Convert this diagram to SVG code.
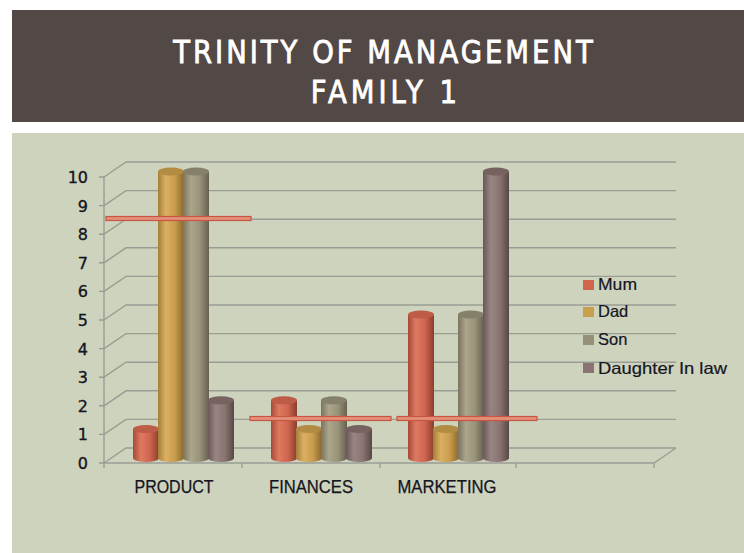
<svg xmlns="http://www.w3.org/2000/svg" width="744" height="553" viewBox="0 0 744 553">
<style>
.grid{stroke:#9a9d94;stroke-width:1.4;fill:none}
.ylab{font-family:"DejaVu Sans",sans-serif;font-size:16px;fill:#15151f;stroke:#15151f;stroke-width:0.35;text-anchor:end}
.cat{font-family:"Liberation Sans",Arial,sans-serif;font-size:18px;fill:#15151f;stroke:#15151f;stroke-width:0.25;text-anchor:middle}
.leg{font-family:"Liberation Sans",Arial,sans-serif;font-size:16.5px;fill:#15151f;stroke:#15151f;stroke-width:0.2}
.title{font-family:"DejaVu Sans",sans-serif;font-size:32px;fill:#ffffff;stroke:#ffffff;stroke-width:0.9;text-anchor:middle}
.ref{fill:#e38f7b;stroke:#c9573f;stroke-width:1.2}
</style>
<defs>
<linearGradient id="gMum" x1="0" x2="1" y1="0" y2="0">
<stop offset="0" stop-color="#a54a38"/><stop offset="0.3" stop-color="#de7a60"/><stop offset="0.65" stop-color="#cf6550"/><stop offset="1" stop-color="#8a3e2e"/>
</linearGradient>
<linearGradient id="gDad" x1="0" x2="1" y1="0" y2="0">
<stop offset="0" stop-color="#a67e38"/><stop offset="0.3" stop-color="#dbb063"/><stop offset="0.65" stop-color="#c99c4c"/><stop offset="1" stop-color="#8a672e"/>
</linearGradient>
<linearGradient id="gSon" x1="0" x2="1" y1="0" y2="0">
<stop offset="0" stop-color="#7a7460"/><stop offset="0.3" stop-color="#aba58b"/><stop offset="0.65" stop-color="#99937a"/><stop offset="1" stop-color="#666150"/>
</linearGradient>
<linearGradient id="gDil" x1="0" x2="1" y1="0" y2="0">
<stop offset="0" stop-color="#6a5856"/><stop offset="0.3" stop-color="#988583"/><stop offset="0.65" stop-color="#8a7471"/><stop offset="1" stop-color="#584746"/>
</linearGradient>
</defs>

<rect x="0" y="0" width="744" height="553" fill="#ffffff"/>
<g id="header">
<rect x="12" y="10" width="732" height="112" fill="#524846"/>
<g transform="translate(383 0) scale(0.86 1)">
<text class="title" x="0" y="63" textLength="488" lengthAdjust="spacing">TRINITY OF MANAGEMENT</text>
<text class="title" x="1" y="103" textLength="170" lengthAdjust="spacing">FAMILY 1</text>
</g>
</g>
<rect id="panel" x="12" y="133" width="732" height="420" fill="#cdd3bc"/>

<g id="axes">
<path class="grid" d="M104 463 L126 448 L676 448 M104 434.4 L126 419.4 L676 419.4 M104 405.8 L126 390.8 L676 390.8 M104 377.2 L126 362.2 L676 362.2 M104 348.6 L126 333.6 L676 333.6 M104 320 L126 305 L676 305 M104 291.4 L126 276.4 L676 276.4 M104 262.8 L126 247.8 L676 247.8 M104 234.2 L126 219.2 L676 219.2 M104 205.6 L126 190.6 L676 190.6 M104 177 L126 162 L676 162"/>
<path class="grid" d="M104 177 L104 463 L654 463 L676 448 M99 463 L104 463 M99 434.4 L104 434.4 M99 405.8 L104 405.8 M99 377.2 L104 377.2 M99 348.6 L104 348.6 M99 320 L104 320 M99 291.4 L104 291.4 M99 262.8 L104 262.8 M99 234.2 L104 234.2 M99 205.6 L104 205.6 M99 177 L104 177 M104 463 L104 468 M242 463 L242 468 M380 463 L380 468 M516 463 L516 468 M654 463 L654 468"/>
<text class="ylab" x="88" y="469">0</text>
<text class="ylab" x="88" y="440.4">1</text>
<text class="ylab" x="88" y="411.8">2</text>
<text class="ylab" x="88" y="383.2">3</text>
<text class="ylab" x="88" y="354.6">4</text>
<text class="ylab" x="88" y="326">5</text>
<text class="ylab" x="88" y="297.4">6</text>
<text class="ylab" x="88" y="268.8">7</text>
<text class="ylab" x="88" y="240.2">8</text>
<text class="ylab" x="88" y="211.6">9</text>
<text class="ylab" x="88" y="183">10</text>
<text class="cat" x="174" y="493" textLength="79" lengthAdjust="spacingAndGlyphs">PRODUCT</text>
<text class="cat" x="311" y="493" textLength="84" lengthAdjust="spacingAndGlyphs">FINANCES</text>
<text class="cat" x="447" y="493" textLength="99" lengthAdjust="spacingAndGlyphs">MARKETING</text>
</g>

<g id="product">
<path fill="url(#gMum)" d="M133 429 L133 458 A13 4 0 0 0 159 458 L159 429 Z"/><ellipse cx="146" cy="429" rx="13" ry="4" fill="#bd5c47"/>
<path fill="url(#gDad)" d="M158 171.5 L158 458 A13 4 0 0 0 184 458 L184 171.5 Z"/><ellipse cx="171" cy="171.5" rx="13" ry="4" fill="#b38c44"/>
<path fill="url(#gSon)" d="M183 171.5 L183 458 A13 4 0 0 0 209 458 L209 171.5 Z"/><ellipse cx="196" cy="171.5" rx="13" ry="4" fill="#85806a"/>
<path fill="url(#gDil)" d="M208 400.3 L208 458 A13 4 0 0 0 234 458 L234 400.3 Z"/><ellipse cx="221" cy="400.3" rx="13" ry="4" fill="#76625f"/>
<rect class="ref" x="106" y="216.5" width="145" height="4"/>
</g>

<g id="finances">
<path fill="url(#gMum)" d="M271 400.3 L271 458 A13 4 0 0 0 297 458 L297 400.3 Z"/><ellipse cx="284" cy="400.3" rx="13" ry="4" fill="#bd5c47"/>
<path fill="url(#gDad)" d="M296 429 L296 458 A13 4 0 0 0 322 458 L322 429 Z"/><ellipse cx="309" cy="429" rx="13" ry="4" fill="#b38c44"/>
<path fill="url(#gSon)" d="M321 400.3 L321 458 A13 4 0 0 0 347 458 L347 400.3 Z"/><ellipse cx="334" cy="400.3" rx="13" ry="4" fill="#85806a"/>
<path fill="url(#gDil)" d="M346 429 L346 458 A13 4 0 0 0 372 458 L372 429 Z"/><ellipse cx="359" cy="429" rx="13" ry="4" fill="#76625f"/>
<rect class="ref" x="250" y="416.5" width="141" height="4"/>
</g>

<g id="marketing">
<path fill="url(#gMum)" d="M408 314.5 L408 458 A13 4 0 0 0 434 458 L434 314.5 Z"/><ellipse cx="421" cy="314.5" rx="13" ry="4" fill="#bd5c47"/>
<path fill="url(#gDad)" d="M433 429 L433 458 A13 4 0 0 0 459 458 L459 429 Z"/><ellipse cx="446" cy="429" rx="13" ry="4" fill="#b38c44"/>
<path fill="url(#gSon)" d="M458 314.5 L458 458 A13 4 0 0 0 484 458 L484 314.5 Z"/><ellipse cx="471" cy="314.5" rx="13" ry="4" fill="#85806a"/>
<path fill="url(#gDil)" d="M483 171.5 L483 458 A13 4 0 0 0 509 458 L509 171.5 Z"/><ellipse cx="496" cy="171.5" rx="13" ry="4" fill="#76625f"/>
<rect class="ref" x="397" y="416.5" width="140" height="4"/>
</g>

<g id="legend">
<rect x="583" y="280" width="11" height="10" fill="#d0654d"/>
<text class="leg" x="598" y="290" textLength="39" lengthAdjust="spacingAndGlyphs">Mum</text>
<rect x="583" y="307" width="11" height="10" fill="#c8a04c"/>
<text class="leg" x="598" y="317">Dad</text>
<rect x="583" y="335" width="11" height="10" fill="#959078"/>
<text class="leg" x="598" y="345">Son</text>
<rect x="583" y="363" width="11" height="10" fill="#8a7372"/>
<text class="leg" x="598" y="374" textLength="129" lengthAdjust="spacingAndGlyphs">Daughter In law</text>
</g>
</svg>
